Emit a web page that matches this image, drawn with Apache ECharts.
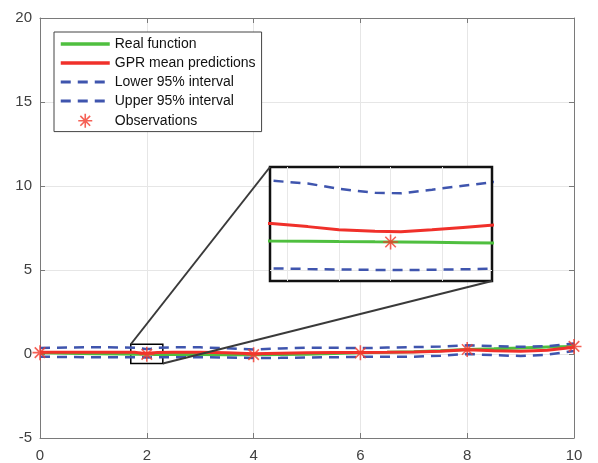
<!DOCTYPE html>
<html>
<head>
    <meta charset="utf-8"/>
    <title>GPR</title>
    <style>html, body {margin: 0; padding: 0; background: #fff;}</style>
</head>
<body>
<div id="main" style="width: 598px;height:463px;"></div>
<script src="https://cdn.jsdelivr.net/npm/echarts@6/dist/echarts.min.js"></script>
<script>
    // sample positions of the curves
    var xs = [0, 0.5, 1, 1.5, 1.77, 1.84, 1.9, 1.97, 2.02, 2.08, 2.14, 2.2, 2.5, 3, 3.5, 4, 4.5, 5, 5.5, 6, 6.5, 7, 7.5, 8, 8.5, 9, 9.5, 10];
    var realY = [0.08, 0.05, 0.02, 0.0, -0.013, -0.015, -0.017, -0.019, -0.02, -0.022, -0.024, -0.026, -0.03, -0.035, -0.04, -0.04, -0.03, -0.01, 0.03, 0.07, 0.1, 0.14, 0.2, 0.27, 0.31, 0.36, 0.41, 0.45];
    var meanY = [0.10, 0.11, 0.11, 0.11, 0.10, 0.08, 0.06, 0.05, 0.047, 0.06, 0.075, 0.09, 0.11, 0.11, 0.07, 0.02, 0.05, 0.08, 0.09, 0.09, 0.10, 0.12, 0.17, 0.26, 0.20, 0.16, 0.22, 0.40];
    var lowerY = [-0.16, -0.18, -0.19, -0.19, -0.191, -0.195, -0.198, -0.201, -0.202, -0.2, -0.197, -0.193, -0.19, -0.19, -0.21, -0.24, -0.23, -0.21, -0.19, -0.17, -0.17, -0.16, -0.10, 0.0, -0.07, -0.12, -0.04, 0.18];
    var upperY = [0.36, 0.39, 0.40, 0.39, 0.378, 0.36, 0.325, 0.30, 0.296, 0.32, 0.345, 0.37, 0.40, 0.40, 0.34, 0.27, 0.33, 0.38, 0.37, 0.35, 0.38, 0.41, 0.44, 0.52, 0.47, 0.43, 0.47, 0.62];
    var obsX = [0, 2, 4, 6, 8, 10];
    var obsY = [0.08, -0.02, -0.04, 0.07, 0.27, 0.45];

    var names = ['Real function', 'GPR mean predictions', 'Lower 95% interval', 'Upper 95% interval', 'Observations'];

    // axes
    var xRange = [0, 10], xStep = 2;
    var yRange = [-5, 20], yStep = 5;
    // zoomed region (small box) and inset axis limits
    var zoomRectX = [1.7, 2.3], zoomRectY = [-0.56, 0.58];
    var insetX = [1.767, 2.196], insetY = [-0.273, 0.467];
    var insetGridX = [1.8, 1.9, 2.0, 2.1], insetGridY = [-0.2];

    var starPath = 'path://M10 0 L10 20 M0 10 L20 10 M3 3 L17 17 M3 17 L17 3';
    var cGreen = '#4fbf3f', cRed = '#f0302a', cBlue = '#3f55ae', cStar = '#f23a2c';

    function pairs(a, b) {
        return a.map(function (v, i) { return [v, b[i]]; });
    }

    var chart = echarts.init(document.getElementById('main'));

    var edge = {show: true, onZero: false, lineStyle: {color: '#7a7a7a', width: 1}};
    function mainAxis(pos, range, step, labels) {
        return {
            type: 'value', gridIndex: 0, position: pos, min: range[0], max: range[1], interval: step,
            axisLine: edge,
            axisTick: {show: true, inside: true, length: 5, lineStyle: {color: '#7a7a7a'}},
            axisLabel: {show: labels, color: '#404040', fontSize: 15, fontFamily: 'Liberation Sans', margin: pos === 'bottom' ? 10 : 8},
            splitLine: {show: labels, lineStyle: {color: '#e6e6e6'}}
        };
    }

    function curves(axisIdx, z, withMarks) {
        var s = [
            {name: names[0], type: 'line', data: pairs(xs, realY), lineStyle: {color: cGreen, width: 3}, itemStyle: {color: cGreen}},
            {name: names[1], type: 'line', data: pairs(xs, meanY), lineStyle: {color: cRed, width: 3}, itemStyle: {color: cRed}},
            {name: names[2], type: 'line', data: pairs(xs, lowerY), lineStyle: {color: cBlue, width: 2.5, type: [10, 7]}, itemStyle: {color: cBlue}},
            {name: names[3], type: 'line', data: pairs(xs, upperY), lineStyle: {color: cBlue, width: 2.5, type: [10, 7]}, itemStyle: {color: cBlue}},
            {name: names[4], type: 'scatter', data: pairs(obsX, obsY), symbol: starPath, symbolSize: 15,
                itemStyle: {color: 'transparent', borderColor: cStar, borderWidth: 1.6}}
        ];
        s.forEach(function (o) {
            o.xAxisIndex = axisIdx;
            o.yAxisIndex = axisIdx;
            o.z = z;
            o.silent = true;
            if (o.type === 'line') { o.symbol = 'none'; o.showSymbol = false; }
        });
        if (withMarks) {
            s[0].markArea = {
                silent: true,
                itemStyle: {color: 'transparent', borderColor: '#000', borderWidth: 1.5},
                data: [[{coord: [zoomRectX[0], zoomRectY[1]]}, {coord: [zoomRectX[1], zoomRectY[0]]}]]
            };
        } else {
            s[2].markLine = {
                silent: true, symbol: 'none', label: {show: false},
                lineStyle: {color: '#e8e8e8', width: 1, type: 'solid'},
                data: insetGridX.map(function (v) { return {xAxis: v}; })
                    .concat(insetGridY.map(function (v) { return {yAxis: v}; }))
            };
        }
        return s;
    }

    var lineOnly = {opacity: 0};

    var option = {
        animation: false,
        backgroundColor: '#fff',
        textStyle: {fontFamily: 'Liberation Sans'},
        grid: [
            {left: 40, right: 24, top: 18, bottom: 24},
            {left: 270, top: 167, width: 222, height: 114, show: true, z: 5,
                backgroundColor: '#fff', borderColor: '#111', borderWidth: 2.5}
        ],
        legend: {
            orient: 'vertical', left: 54, top: 32, padding: [5, 6, 3, 5],
            itemWidth: 49, itemHeight: 14, itemGap: 5,
            backgroundColor: '#fff', borderColor: '#444', borderWidth: 1,
            selectedMode: false, z: 10,
            textStyle: {fontSize: 14, color: '#111', fontFamily: 'Liberation Sans'},
            data: [
                {name: names[0], itemStyle: lineOnly, lineStyle: {width: 3.5}},
                {name: names[1], itemStyle: lineOnly, lineStyle: {width: 3.5}},
                {name: names[2], itemStyle: lineOnly, lineStyle: {width: 3, type: [10, 7]}},
                {name: names[3], itemStyle: lineOnly, lineStyle: {width: 3, type: [10, 7]}},
                {name: names[4], icon: starPath, itemStyle: {color: 'transparent', borderColor: cStar, borderWidth: 1.6}}
            ]
        },
        xAxis: [
            mainAxis('bottom', xRange, xStep, true),
            mainAxis('top', xRange, xStep, false),
            {type: 'value', gridIndex: 1, min: insetX[0], max: insetX[1], z: 6,
                axisLine: {show: false}, axisTick: {show: false}, axisLabel: {show: false}, splitLine: {show: false}}
        ],
        yAxis: [
            mainAxis('left', yRange, yStep, true),
            mainAxis('right', yRange, yStep, false),
            {type: 'value', gridIndex: 1, min: insetY[0], max: insetY[1], z: 6,
                axisLine: {show: false}, axisTick: {show: false}, axisLabel: {show: false}, splitLine: {show: false}}
        ],
        series: curves(0, 2, true).concat(curves(2, 7, false))
    };
    chart.setOption(option);

    // connectors between the small box and the inset
    var a1 = chart.convertToPixel({xAxisIndex: 0, yAxisIndex: 0}, [zoomRectX[0], zoomRectY[1]]);
    var b1 = chart.convertToPixel({xAxisIndex: 2, yAxisIndex: 2}, [insetX[0], insetY[1]]);
    var a2 = chart.convertToPixel({xAxisIndex: 0, yAxisIndex: 0}, [zoomRectX[1], zoomRectY[0]]);
    var b2 = chart.convertToPixel({xAxisIndex: 2, yAxisIndex: 2}, [insetX[1], insetY[0]]);
    chart.setOption({
        graphic: [
            {type: 'line', z: 20, silent: true, shape: {x1: a1[0], y1: a1[1], x2: b1[0], y2: b1[1]}, style: {stroke: '#3a3a3a', lineWidth: 2}},
            {type: 'line', z: 20, silent: true, shape: {x1: a2[0], y1: a2[1], x2: b2[0], y2: b2[1]}, style: {stroke: '#3a3a3a', lineWidth: 2}}
        ]
    });
</script>
</body>
</html>
